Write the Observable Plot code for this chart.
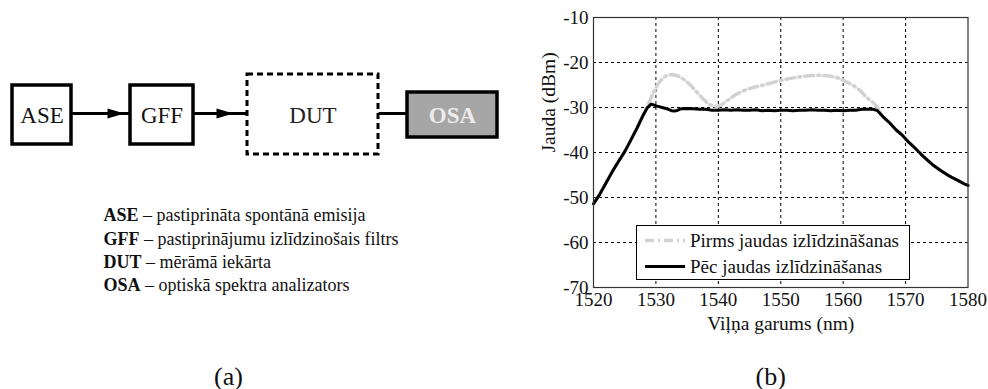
<!DOCTYPE html>
<html><head><meta charset="utf-8">
<script src="https://cdn.jsdelivr.net/npm/d3@7"></script>
<script src="https://cdn.jsdelivr.net/npm/@observablehq/plot@0.6"></script>
<style>
body{margin:0;background:#fff;}
#root{position:relative;width:988px;height:389px;overflow:hidden;background:#fff;font-family:"Liberation Serif","Times New Roman",serif;}
#diagram{position:absolute;left:0;top:0;}
#chart{position:absolute;left:520px;top:0;}
#legend{position:absolute;left:636px;top:225px;width:274px;height:55px;}
</style></head><body>
<div id="root"><div id="diagram"></div><div id="chart"></div><div id="legend"></div></div>
<script>
// ---------- data ----------
const blockNames = ["ASE", "GFF", "DUT", "OSA"];
const blockDescriptions = [
  "pastiprināta spontānā emisija",
  "pastiprinājumu izlīdzinošais filtrs",
  "mērāmā iekārta",
  "optiskā spektra analizators"
];
const panelLabels = ["(a)", "(b)"];
const seriesNames = ["Pirms jaudas izlīdzināšanas", "Pēc jaudas izlīdzināšanas"];
const xLabel = "Viļņa garums (nm)";
const yLabel = "Jauda (dBm)";
const xTicks = [1520, 1530, 1540, 1550, 1560, 1570, 1580];
const yTicks = [-70, -60, -50, -40, -30, -20, -10];

// before gain flattening (grey dash-dot)
const wavelengthBefore = [1520, 1521, 1522, 1523, 1524, 1525, 1526, 1527, 1528, 1528.8, 1529.5, 1530, 1530.7, 1531.5, 1532.5, 1533.5, 1534.5, 1535.5, 1536.5, 1537.5, 1538.5, 1539.5, 1540.5, 1541.5, 1543, 1545, 1547, 1550, 1552.5, 1555, 1557, 1558.5, 1559.5, 1560.5, 1561.5, 1562.7, 1563.7, 1564.8, 1565.5, 1566.5, 1567.5, 1568.5, 1569.5, 1570.5, 1571.5, 1572.5, 1573.5, 1574.5, 1575.5, 1576.5, 1577.5, 1578.5, 1579.3, 1580];
const powerBefore = [-51.4, -49.3, -46.8, -44.3, -42.0, -39.8, -37.2, -34.5, -31.5, -29.2, -27.0, -25.6, -24.1, -23.1, -22.7, -23.0, -23.8, -25.0, -26.5, -28.0, -29.2, -29.7, -29.4, -28.4, -27.0, -25.8, -25.1, -24.0, -23.3, -22.9, -22.9, -23.2, -23.6, -24.3, -25.0, -26.2, -27.7, -28.9, -30.0, -32.2, -33.5, -35.0, -36.2, -37.7, -39.0, -40.4, -41.7, -42.9, -43.9, -44.8, -45.6, -46.3, -46.9, -47.3];

// after gain flattening (black solid)
const wavelengthAfter = [1520, 1521, 1522, 1523, 1524, 1525, 1526, 1527, 1528, 1528.6, 1529.2, 1529.6, 1530.2, 1531, 1532, 1532.5, 1533, 1533.5, 1534, 1535, 1536, 1537, 1538, 1539, 1540, 1541, 1542, 1543, 1544, 1545, 1546, 1547, 1548, 1549, 1550, 1551, 1552, 1553, 1554, 1555, 1556, 1557, 1558, 1559, 1560, 1561, 1562, 1563, 1564, 1564.8, 1565.5, 1566.5, 1567.5, 1568.5, 1569.5, 1570.5, 1571.5, 1572.5, 1573.5, 1574.5, 1575.5, 1576.5, 1577.5, 1578.5, 1579.3, 1580];
const powerAfter = [-51.4, -49.3, -46.8, -44.3, -42.0, -39.8, -37.2, -34.5, -31.6, -30.1, -29.3, -29.4, -29.7, -30.0, -30.4, -30.7, -30.8, -30.6, -30.3, -30.2, -30.3, -30.4, -30.4, -30.6, -30.6, -30.5, -30.6, -30.5, -30.6, -30.6, -30.5, -30.7, -30.6, -30.7, -30.6, -30.6, -30.7, -30.6, -30.6, -30.5, -30.6, -30.6, -30.7, -30.6, -30.7, -30.6, -30.6, -30.4, -30.4, -30.4, -30.7, -32.2, -33.5, -35.0, -36.2, -37.7, -39.0, -40.4, -41.7, -42.9, -43.9, -44.8, -45.6, -46.3, -46.9, -47.3];

// ---------- diagram layout (pixels) ----------
const diagramLayout = [
  {x1: 12, x2: 71, y1: 85, y2: 144, fill: "#fff", color: "#111", dashed: false, bold: false},
  {x1: 130, x2: 193, y1: 85, y2: 144, fill: "#fff", color: "#111", dashed: false, bold: false},
  {x1: 247, x2: 378, y1: 74, y2: 154, fill: "#fff", color: "#222", dashed: true, bold: false},
  {x1: 407, x2: 497, y1: 92, y2: 137, fill: "#a6a6a6", color: "#ececec", dashed: false, bold: true}
];
const connectorY = 113;
const headGap = [6, 14, null];
const descLayout = {x: 103, y0: 215, step: 23.4, fontSize: 18};

const FONT = "Liberation Serif";
const blocks = blockNames.map((name, i) => ({name, ...diagramLayout[i]}));
const connectors = blocks.slice(0, -1).map((b, i) => ({
  x1: b.x2, x2: blocks[i + 1].x1, y: connectorY,
  tip: headGap[i] == null ? null : blocks[i + 1].x1 - headGap[i]
}));
const heads = connectors.filter(c => c.tip != null);

const arrowSymbol = {
  draw(context) {
    context.moveTo(0, 0);
    context.lineTo(-17, -5);
    context.lineTo(-17, 5);
    context.closePath();
  }
};

const ctx = document.createElement("canvas").getContext("2d");
function textWidth(t, weight) {
  ctx.font = `${weight} ${descLayout.fontSize}px "${FONT}"`;
  return ctx.measureText(t).width;
}
const descRows = blockNames.map((abbr, i) => ({
  abbr,
  rest: "– " + blockDescriptions[i],
  y: descLayout.y0 + i * descLayout.step,
  xRest: descLayout.x + textWidth(abbr, "bold") + textWidth(" ", "normal")
}));

const blockText = (data, weight) => Plot.text(data, {
  x: d => (d.x1 + d.x2) / 2, y: d => (d.y1 + d.y2) / 2 + 1, text: "name", fill: "color",
  fontWeight: weight, fontSize: 23
});

const diagram = Plot.plot({
  width: 520, height: 389, margin: 0,
  x: {type: "identity"}, y: {type: "identity"},
  style: {fontFamily: FONT, background: "transparent", overflow: "visible"},
  marks: [
    Plot.link(connectors, {x1: "x1", x2: "x2", y1: "y", y2: "y", stroke: "#000", strokeWidth: 3}),
    Plot.dot(heads, {x: "tip", y: "y", symbol: arrowSymbol, fill: "#000", stroke: "none", r: 5}),
    Plot.rect(blocks.filter(b => !b.dashed), {x1: "x1", x2: "x2", y1: "y1", y2: "y2", fill: "fill", stroke: "#000", strokeWidth: 3.5}),
    Plot.rect(blocks.filter(b => b.dashed), {x1: "x1", x2: "x2", y1: "y1", y2: "y2", fill: "fill", stroke: "#000", strokeWidth: 3, strokeDasharray: "6,4"}),
    blockText(blocks.filter(b => !b.bold), "normal"),
    blockText(blocks.filter(b => b.bold), "bold"),
    Plot.text(descRows, {x: descLayout.x, y: "y", text: "abbr", textAnchor: "start", fontWeight: "bold", fontSize: descLayout.fontSize, fill: "#111"}),
    Plot.text(descRows, {x: "xRest", y: "y", text: "rest", textAnchor: "start", fontSize: descLayout.fontSize, fill: "#111"}),
    Plot.text([panelLabels[0]], {x: 228, y: 376, fontSize: 26, fill: "#111"})
  ]
});
document.getElementById("diagram").append(diagram);

// ---------- chart ----------
const before = wavelengthBefore.map((x, i) => ({x, y: powerBefore[i], series: seriesNames[0]}));
const after = wavelengthAfter.map((x, i) => ({x, y: powerAfter[i], series: seriesNames[1]}));
const fmt = d => String(d);

const chart = Plot.plot({
  width: 468, height: 389,
  marginLeft: 73, marginRight: 20.5, marginTop: 17, marginBottom: 102,
  style: {fontFamily: FONT, fontSize: "19px", color: "#111", background: "transparent", overflow: "visible"},
  x: {domain: [1520, 1580], label: null},
  y: {domain: [-70, -10], label: null},
  marks: [
    Plot.gridX(xTicks.slice(1, -1), {stroke: "#000", strokeOpacity: 1, strokeWidth: 1, strokeDasharray: "3,3"}),
    Plot.gridY(yTicks.slice(1, -1), {stroke: "#000", strokeOpacity: 1, strokeWidth: 1, strokeDasharray: "3,3"}),
    Plot.line(before, {x: "x", y: "y", stroke: "#d2d2d2", strokeWidth: 3.5, strokeDasharray: "9,4,2,4", curve: "catmull-rom"}),
    Plot.line(after, {x: "x", y: "y", stroke: "#000", strokeWidth: 3}),
    Plot.frame({stroke: "#333", strokeWidth: 1.2}),
    Plot.axisX(xTicks, {tickSize: 0, tickPadding: 5, tickFormat: fmt, fontSize: 19}),
    Plot.axisY(yTicks, {tickSize: 0, tickPadding: 5, tickFormat: fmt, fontSize: 19}),
    Plot.text([xLabel], {frameAnchor: "bottom", lineAnchor: "middle", dy: 36, fontSize: 19.5}),
    Plot.text([yLabel], {frameAnchor: "left", lineAnchor: "middle", rotate: -90, dx: -45, fontSize: 19.5}),
    Plot.text([panelLabels[1]], {frameAnchor: "bottom", lineAnchor: "middle", dy: 89, dx: -10, fontSize: 26})
  ]
});
document.getElementById("chart").append(chart);

// ---------- legend ----------
const legendStyles = [
  {stroke: "#d2d2d2", width: 3.5, dash: "9,4,2,4"},
  {stroke: "#000", width: 3, dash: null}
];
const lg = d3.select("#legend").append("svg").attr("width", 274).attr("height", 55)
  .style("font-family", FONT).style("overflow", "visible");
lg.append("rect").attr("x", 0.5).attr("y", 0.5).attr("width", 273).attr("height", 54)
  .attr("fill", "#fff").attr("stroke", "#000").attr("stroke-width", 1);
seriesNames.forEach((name, i) => {
  const cy = 15.5 + i * 26;
  const s = legendStyles[i];
  lg.append("line").attr("x1", 9).attr("x2", 49).attr("y1", cy).attr("y2", cy)
    .attr("stroke", s.stroke).attr("stroke-width", s.width).attr("stroke-dasharray", s.dash);
  lg.append("text").attr("x", 54).attr("y", cy).attr("dy", "0.32em")
    .attr("font-size", 19).attr("fill", "#111").text(name);
});
</script>
</body></html>
